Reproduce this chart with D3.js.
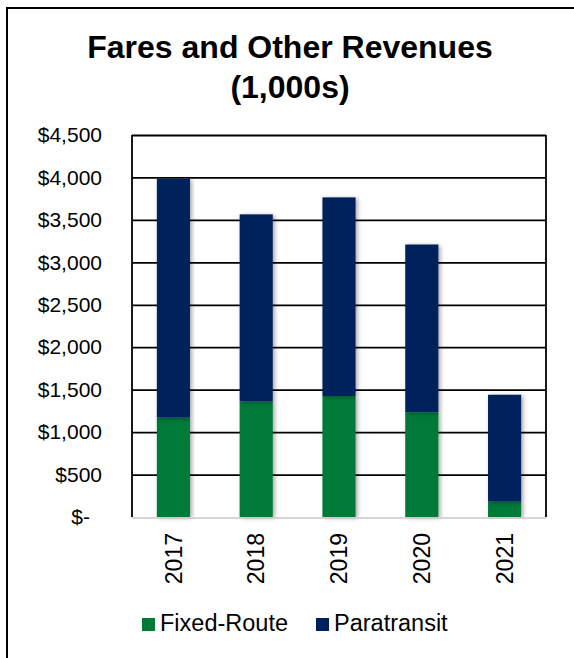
<!DOCTYPE html>
<head>
  <meta charset="utf-8">
  <title>Fares and Other Revenues</title>
  <script src="https://d3js.org/d3.v7.min.js"></script>
</head>
<body style="margin:0;background:#fff">
  <script>
    var years = ['2017', '2018', '2019', '2020', '2021'];
    var fixedRoute = [1170, 1360, 1425, 1235, 180];
    var paratransit = [2815, 2205, 2340, 1975, 1260];
    var seriesNames = ['Fixed-Route', 'Paratransit'];
    var yTicks = [0, 500, 1000, 1500, 2000, 2500, 3000, 3500, 4000, 4500];

    var width = 574;
    var height = 658;
    var colors = {'Fixed-Route': '#007a37', 'Paratransit': '#00205b'};
    var font = 'Liberation Sans, Arial, sans-serif';

    var rows = years.map(function(y, i) {
      return {year: y, 'Fixed-Route': fixedRoute[i], 'Paratransit': paratransit[i]};
    });
    var stacked = d3.stack().keys(seriesNames)(rows);

    var svg = d3.select('body').append('svg').attr('width', width).attr('height', height);

    var defs = svg.append('defs');
    defs.append('filter').attr('id', 'shadow')
      .attr('x', '-30%').attr('y', '-10%').attr('width', '160%').attr('height', '120%')
      .append('feDropShadow')
      .attr('dx', 2).attr('dy', 1).attr('stdDeviation', 2)
      .attr('flood-color', '#000').attr('flood-opacity', 0.35);

    // outer frame
    svg.append('rect')
      .attr('x', 7).attr('y', 8).attr('width', 600).attr('height', 700)
      .attr('fill', 'none').attr('stroke', '#000').attr('stroke-width', 2);

    var plotLeft = 132, plotRight = 546, plotTop = 135, plotBottom = 517;

    var x = d3.scaleBand().domain(years).range([plotLeft, plotRight]).paddingInner(0.6).paddingOuter(0.3);
    var y = d3.scaleLinear().domain([0, 4500]).range([plotBottom, plotTop]);

    // title
    var title = svg.append('text')
      .attr('text-anchor', 'middle')
      .attr('font-family', font).attr('font-weight', 'bold').attr('font-size', 32)
      .attr('fill', '#000');
    title.append('tspan').attr('x', 290).attr('y', 58).text('Fares and Other Revenues');
    title.append('tspan').attr('x', 290).attr('y', 98).text('(1,000s)');

    // gridlines
    svg.append('g')
      .attr('transform', 'translate(' + plotLeft + ',0)')
      .call(d3.axisLeft(y).tickValues(yTicks.slice(1)).tickSize(-(plotRight - plotLeft)).tickFormat(''))
      .call(function(g) { g.select('.domain').remove(); })
      .selectAll('line').attr('stroke', '#000').attr('stroke-width', 1.8);

    // bars
    svg.append('g').selectAll('g')
      .data(stacked)
      .enter().append('g')
      .attr('fill', function(d) { return colors[d.key]; })
      .selectAll('rect')
      .data(function(d) { return d; })
      .enter().append('rect')
      .attr('x', function(d) { return x(d.data.year); })
      .attr('y', function(d) { return y(d[1]); })
      .attr('width', x.bandwidth())
      .attr('height', function(d) { return y(d[0]) - y(d[1]); })
      .attr('filter', 'url(#shadow)');

    // plot borders
    svg.append('line').attr('x1', plotLeft).attr('x2', plotLeft).attr('y1', plotTop).attr('y2', plotBottom)
      .attr('stroke', '#000').attr('stroke-width', 1.8);
    svg.append('line').attr('x1', plotRight).attr('x2', plotRight).attr('y1', plotTop).attr('y2', plotBottom)
      .attr('stroke', '#000').attr('stroke-width', 1.8);
    svg.append('line').attr('x1', plotLeft).attr('x2', plotRight).attr('y1', plotBottom + 1).attr('y2', plotBottom + 1)
      .attr('stroke', '#c8c8c8').attr('stroke-width', 1.5);

    // y axis labels
    var yAxis = svg.append('g')
      .attr('transform', 'translate(102,0)')
      .call(d3.axisLeft(y).tickValues(yTicks).tickSize(0).tickPadding(0)
        .tickFormat(function(d) { return d === 0 ? '$-' : '$' + d3.format(',')(d); }));
    yAxis.select('.domain').remove();
    yAxis.selectAll('text')
      .attr('font-family', font).attr('font-size', 21).attr('fill', '#000')
      .attr('x', function(d) { return d === 0 ? -12 : 0; });

    // x axis labels
    var xAxis = svg.append('g')
      .attr('transform', 'translate(0,533)')
      .call(d3.axisBottom(x).tickSize(0).tickPadding(0));
    xAxis.select('.domain').remove();
    xAxis.selectAll('text')
      .attr('font-family', font).attr('font-size', 23).attr('fill', '#000')
      .attr('transform', 'rotate(-90)')
      .attr('text-anchor', 'end')
      .attr('x', 0).attr('y', 0).attr('dy', '0.36em');

    // legend
    var legendX = [142, 316];
    var legend = svg.append('g').selectAll('g')
      .data(seriesNames)
      .enter().append('g')
      .attr('transform', function(d, i) { return 'translate(' + legendX[i] + ',618)'; });
    legend.append('rect')
      .attr('width', 13).attr('height', 13)
      .attr('fill', function(d) { return colors[d]; });
    legend.append('text')
      .attr('x', 18).attr('y', 13)
      .attr('font-family', font).attr('font-size', 23.5).attr('fill', '#000')
      .text(function(d) { return d; });
  </script>
</body>
